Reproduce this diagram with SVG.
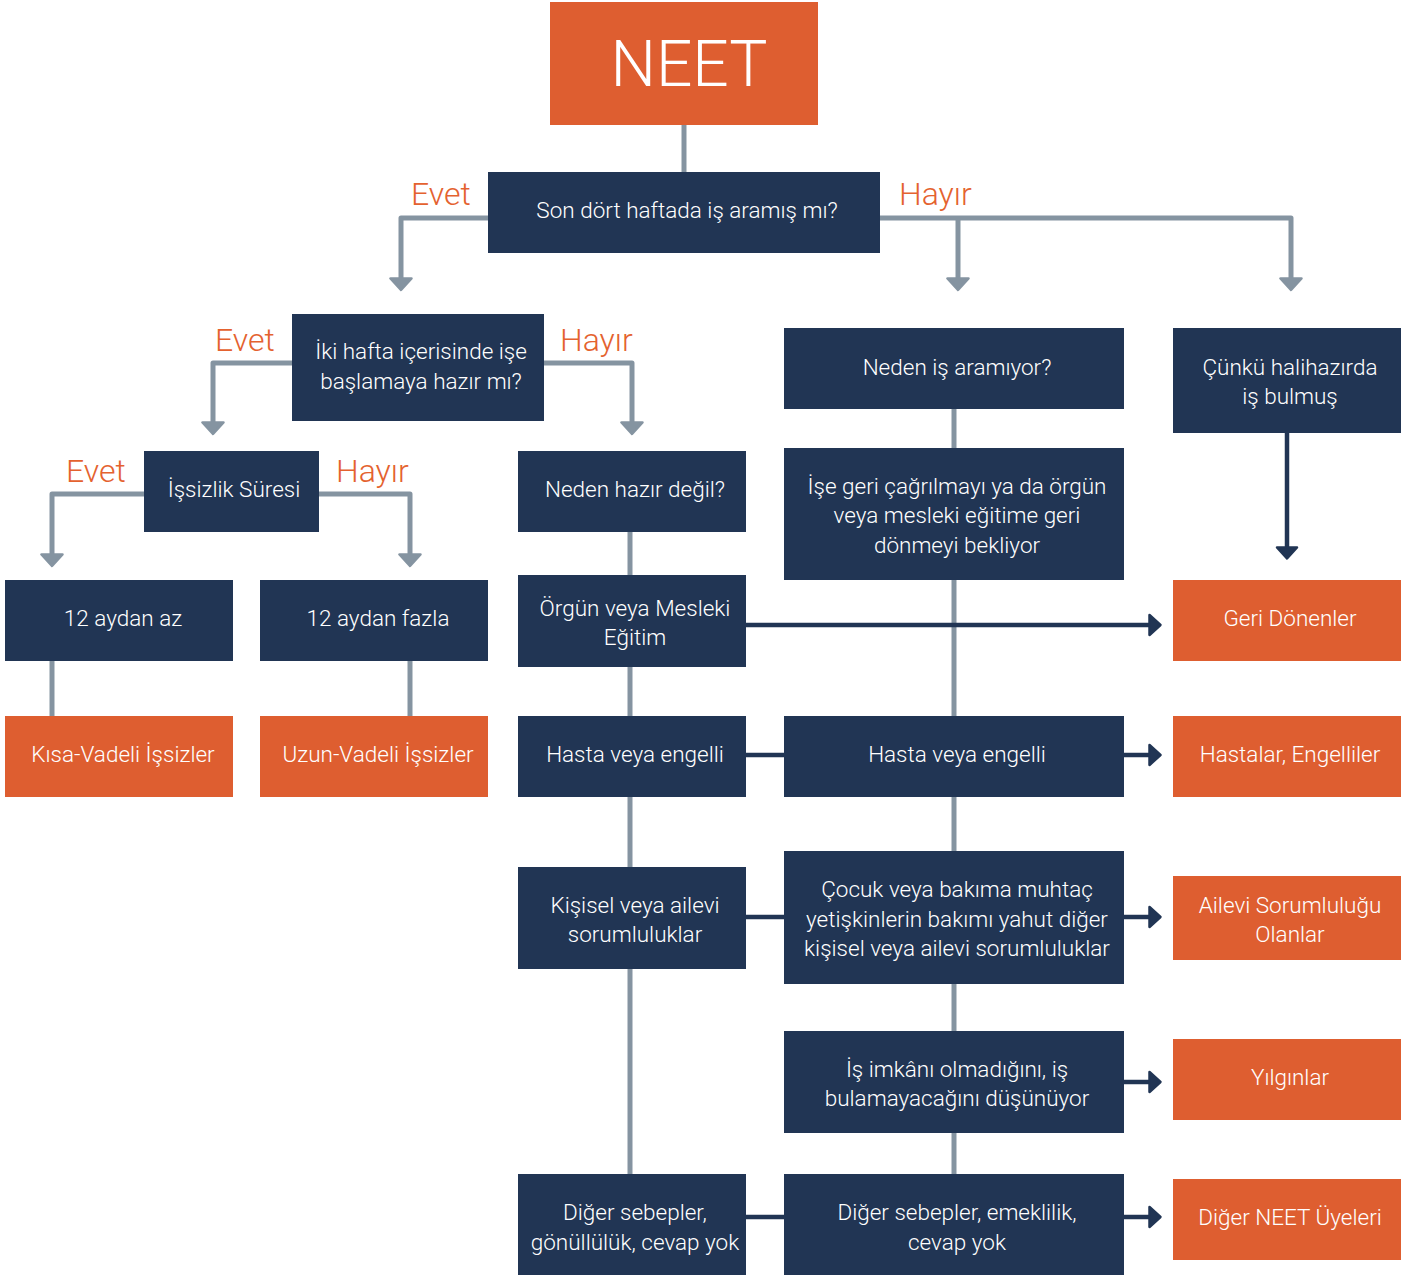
<svg xmlns="http://www.w3.org/2000/svg" width="1416" height="1276" viewBox="0 0 1416 1276">
<style>
.n rect{fill:#213554}
.o rect{fill:#DE5E30}
text{font-family:Roboto,"Liberation Sans",sans-serif;font-weight:300;fill:#ffffff;text-anchor:middle;font-size:22.5px}
.lbl{fill:#E4622F;font-size:32px;text-anchor:start}
.g{fill:none;stroke:#8594A1;stroke-width:5;stroke-linejoin:round}
.d{fill:none;stroke:#213554;stroke-width:4.5;stroke-linejoin:round}
</style>
<defs>
<marker id="ag" markerUnits="userSpaceOnUse" viewBox="0 0 15 24" refX="2" refY="12" markerWidth="15" markerHeight="24" orient="auto">
<path d="M1.5,1.5 L13,12 L1.5,22.5 Z" fill="#8594A1" stroke="#8594A1" stroke-width="2.5" stroke-linejoin="round"/>
</marker>
<marker id="ad" markerUnits="userSpaceOnUse" viewBox="0 0 15 24" refX="2" refY="12" markerWidth="15" markerHeight="24" orient="auto">
<path d="M1.5,2 L12.5,12 L1.5,22 Z" fill="#213554" stroke="#213554" stroke-width="2.5" stroke-linejoin="round"/>
</marker>
</defs>
<g id="connectors">
<path class="g" d="M684,125 V172"/>
<path class="g" d="M488,218 H401 V279" marker-end="url(#ag)"/>
<path class="g" d="M880,218 H1291 V279" marker-end="url(#ag)"/>
<path class="g" d="M958,218 V279" marker-end="url(#ag)"/>
<path class="g" d="M292,363 H213 V423" marker-end="url(#ag)"/>
<path class="g" d="M544,363 H632 V423" marker-end="url(#ag)"/>
<path class="g" d="M144,494 H52 V555" marker-end="url(#ag)"/>
<path class="g" d="M319,494 H410 V555" marker-end="url(#ag)"/>
<path class="g" d="M52,661 V716"/>
<path class="g" d="M410,661 V716"/>
<path class="g" d="M630,532 V1174"/>
<path class="g" d="M954,409 V1174"/>
<path class="d" d="M1287,433 V548" marker-end="url(#ad)"/>
<path class="d" d="M746,625 H1150" marker-end="url(#ad)"/>
<path class="d" d="M746,755 H784"/>
<path class="d" d="M1124,755 H1150" marker-end="url(#ad)"/>
<path class="d" d="M746,917 H784"/>
<path class="d" d="M1124,917 H1150" marker-end="url(#ad)"/>
<path class="d" d="M1124,1082 H1150" marker-end="url(#ad)"/>
<path class="d" d="M746,1217 H784"/>
<path class="d" d="M1124,1217 H1150" marker-end="url(#ad)"/>
</g>
<g id="labels">
<text class="lbl" x="411" y="205">Evet</text>
<text class="lbl" x="899" y="205">Hayır</text>
<text class="lbl" x="215" y="351">Evet</text>
<text class="lbl" x="560" y="351">Hayır</text>
<text class="lbl" x="66" y="482">Evet</text>
<text class="lbl" x="336" y="482">Hayır</text>
</g>
<g id="neet" class="o"><rect x="550" y="2" width="268" height="123"/><text x="689" y="86" style="font-size:64px">NEET</text></g>
<g id="q1" class="n"><rect x="488" y="172" width="392" height="81"/><text x="687" y="218">Son dört haftada iş aramış mı?</text></g>
<g id="q2" class="n"><rect x="292" y="314" width="252" height="107"/><text x="421" y="359">İki hafta içerisinde işe</text><text x="421" y="389">başlamaya hazır mı?</text></g>
<g id="q3" class="n"><rect x="784" y="328" width="340" height="81"/><text x="957" y="375">Neden iş aramıyor?</text></g>
<g id="found" class="n"><rect x="1173" y="328" width="228" height="105"/><text x="1290" y="375">Çünkü halihazırda</text><text x="1290" y="404">iş bulmuş</text></g>
<g id="duration" class="n"><rect x="144" y="451" width="175" height="81"/><text x="234" y="497">İşsizlik Süresi</text></g>
<g id="notready" class="n"><rect x="518" y="451" width="228" height="81"/><text x="635" y="497">Neden hazır değil?</text></g>
<g id="waiting" class="n"><rect x="784" y="448" width="340" height="132"/><text x="957" y="494">İşe geri çağrılmayı ya da örgün</text><text x="957" y="523">veya mesleki eğitime geri</text><text x="957" y="553">dönmeyi bekliyor</text></g>
<g id="lt12" class="n"><rect x="5" y="580" width="228" height="81"/><text x="123" y="626">12 aydan az</text></g>
<g id="gt12" class="n"><rect x="260" y="580" width="228" height="81"/><text x="378" y="626">12 aydan fazla</text></g>
<g id="edu" class="n"><rect x="518" y="575" width="228" height="92"/><text x="635" y="616">Örgün veya Mesleki</text><text x="635" y="645">Eğitim</text></g>
<g id="returners" class="o"><rect x="1173" y="580" width="228" height="81"/><text x="1290" y="626">Geri Dönenler</text></g>
<g id="short" class="o"><rect x="5" y="716" width="228" height="81"/><text x="123" y="762">Kısa-Vadeli İşsizler</text></g>
<g id="long" class="o"><rect x="260" y="716" width="228" height="81"/><text x="378" y="762">Uzun-Vadeli İşsizler</text></g>
<g id="sick1" class="n"><rect x="518" y="716" width="228" height="81"/><text x="635" y="762">Hasta veya engelli</text></g>
<g id="sick2" class="n"><rect x="784" y="716" width="340" height="81"/><text x="957" y="762">Hasta veya engelli</text></g>
<g id="sick" class="o"><rect x="1173" y="716" width="228" height="81"/><text x="1290" y="762">Hastalar, Engelliler</text></g>
<g id="fam1" class="n"><rect x="518" y="867" width="228" height="102"/><text x="635" y="913">Kişisel veya ailevi</text><text x="635" y="942">sorumluluklar</text></g>
<g id="fam2" class="n"><rect x="784" y="851" width="340" height="133"/><text x="957" y="897">Çocuk veya bakıma muhtaç</text><text x="957" y="927">yetişkinlerin bakımı yahut diğer</text><text x="957" y="956">kişisel veya ailevi sorumluluklar</text></g>
<g id="fam" class="o"><rect x="1173" y="876" width="228" height="84"/><text x="1290" y="913">Ailevi Sorumluluğu</text><text x="1290" y="942">Olanlar</text></g>
<g id="disc2" class="n"><rect x="784" y="1031" width="340" height="102"/><text x="957" y="1077">İş imkânı olmadığını, iş</text><text x="957" y="1106">bulamayacağını düşünüyor</text></g>
<g id="disc" class="o"><rect x="1173" y="1039" width="228" height="81"/><text x="1290" y="1085">Yılgınlar</text></g>
<g id="other1" class="n"><rect x="518" y="1174" width="228" height="101"/><text x="635" y="1220">Diğer sebepler,</text><text x="635" y="1250">gönüllülük, cevap yok</text></g>
<g id="other2" class="n"><rect x="784" y="1174" width="340" height="101"/><text x="957" y="1220">Diğer sebepler, emeklilik,</text><text x="957" y="1250">cevap yok</text></g>
<g id="other" class="o"><rect x="1173" y="1179" width="228" height="81"/><text x="1290" y="1225">Diğer NEET Üyeleri</text></g>
</svg>
